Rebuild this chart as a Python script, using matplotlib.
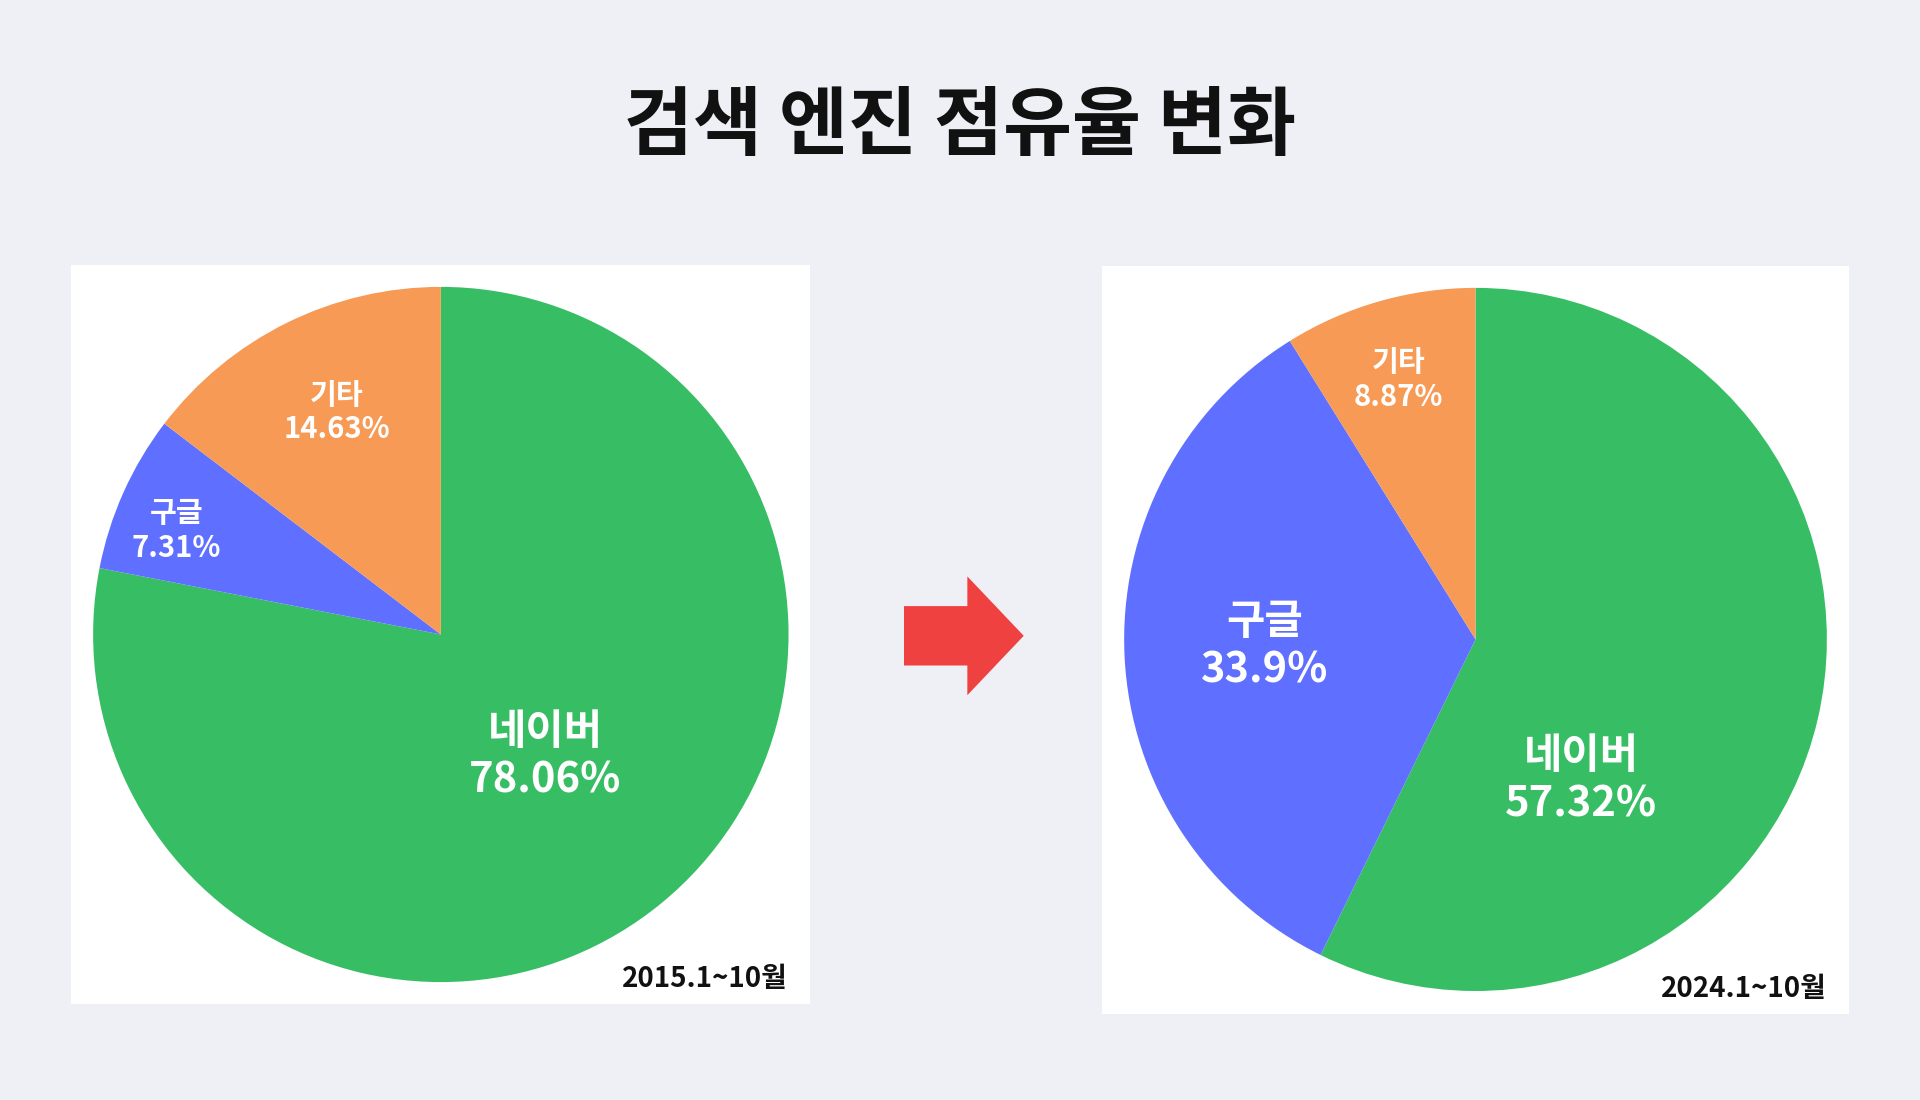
import matplotlib
matplotlib.use("Agg")
import matplotlib.pyplot as plt
from matplotlib import font_manager
from matplotlib.patches import Polygon

cjk = [f.name for f in font_manager.fontManager.ttflist if "CJK" in f.name]
kr = [n for n in cjk if "KR" in n]
plt.rcParams["font.family"] = (kr or cjk or ["DejaVu Sans"])[0]

TITLE = "검색 엔진 점유율 변화"
CATEGORIES = ["네이버", "구글", "기타"]
SHARES_2015 = [78.06, 7.31, 14.63]
SHARES_2024 = [57.32, 33.9, 8.87]
PERIOD_2015 = "2015.1~10월"
PERIOD_2024 = "2024.1~10월"
COLORS = ["#37BE64", "#5F6FFF", "#F79A55"]
BG = "#EEF0F5"


def draw_pie(fig, box, pie_box, shares, period, label_pos, label_sizes):
    bx = fig.add_axes(box)
    bx.set_facecolor("white")
    bx.set_xticks([])
    bx.set_yticks([])
    for s in bx.spines.values():
        s.set_visible(False)
    bx.text(0.97, 0.015, period, transform=bx.transAxes, ha="right", va="bottom",
            fontsize=20, fontweight="bold", color="#111111")

    ax = fig.add_axes(pie_box)
    ax.set_facecolor("none")
    ax.pie(shares, colors=COLORS, startangle=90, counterclock=False,
           radius=1.0, wedgeprops=dict(linewidth=0))
    ax.set_xlim(-1, 1)
    ax.set_ylim(-1, 1)
    ax.set_aspect("auto")
    ax.axis("off")
    for cat, val, (x, y), fs in zip(CATEGORIES, shares, label_pos, label_sizes):
        ax.text(x, y, f"{cat}\n{val:g}%", ha="center", va="center", color="white",
                fontsize=fs, fontweight="bold", linespacing=1.2)


fig = plt.figure(figsize=(19.2, 11), dpi=100)
fig.patch.set_facecolor(BG)
fig.text(0.5, 0.885, TITLE, ha="center", va="center", fontsize=54, fontweight="bold", color="#111111")

draw_pie(fig, [0.037, 0.087, 0.385, 0.672], [0.2296 - 0.1811, 0.4232 - 0.316, 0.3622, 0.632],
         SHARES_2015, PERIOD_2015, [(0.30, -0.35), (-0.76, 0.30), (-0.30, 0.64)], [30, 21, 21])
draw_pie(fig, [0.574, 0.078, 0.389, 0.680], [0.7685 - 0.183, 0.4187 - 0.3196, 0.366, 0.6392],
         SHARES_2024, PERIOD_2024, [(0.30, -0.40), (-0.60, -0.02), (-0.22, 0.74)], [30, 30, 21])

# arrow between the two pies
arr = fig.add_axes([0.4707, 0.368, 0.0625, 0.108])
arr.axis("off")
arr.set_xlim(0, 1)
arr.set_ylim(0, 1)
arr.add_patch(Polygon([(0, 0.25), (0.53, 0.25), (0.53, 0), (1, 0.5), (0.53, 1), (0.53, 0.75), (0, 0.75)],
                      closed=True, color="#F04141", lw=0))

fig.savefig("out.png", dpi=100, facecolor=BG)
